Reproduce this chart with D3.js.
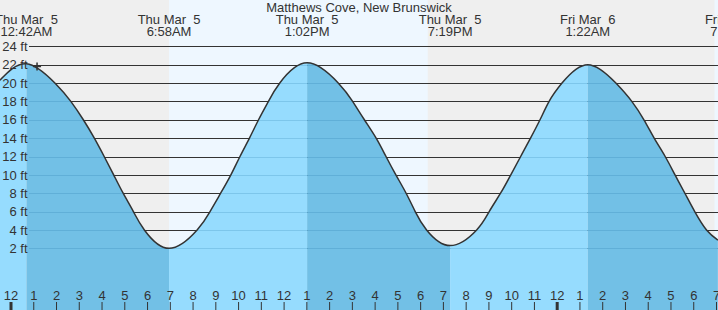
<!DOCTYPE html>
<html>
<head>
<meta charset="utf-8">
<script src="https://cdn.jsdelivr.net/npm/d3@7"></script>
<style>
body { margin:0; padding:0; background:#fff; }
svg { display:block; font-family:"Liberation Sans", Arial, sans-serif; }
text { fill:#333; white-space:pre; }
</style>
</head>
<body>
<svg id="tide"></svg>
<script>
// tide readings picked off the curve (time, feet)
var curveTimes = ["2026-03-04 23:32","2026-03-05 00:42","2026-03-05 01:57","2026-03-05 02:39","2026-03-05 03:12",
    "2026-03-05 03:41","2026-03-05 04:07","2026-03-05 04:32","2026-03-05 04:57","2026-03-05 05:24","2026-03-05 05:53",
    "2026-03-05 06:58","2026-03-05 08:12","2026-03-05 08:46","2026-03-05 09:14","2026-03-05 09:41","2026-03-05 10:05",
    "2026-03-05 10:30","2026-03-05 10:54","2026-03-05 11:20","2026-03-05 11:50","2026-03-05 13:02","2026-03-05 14:24",
    "2026-03-05 15:02","2026-03-05 15:33","2026-03-05 16:04","2026-03-05 16:30","2026-03-05 16:56","2026-03-05 17:23",
    "2026-03-05 17:47","2026-03-05 18:17","2026-03-05 19:19","2026-03-05 20:29","2026-03-05 21:02","2026-03-05 21:32",
    "2026-03-05 21:59","2026-03-05 22:25","2026-03-05 22:51","2026-03-05 23:16","2026-03-05 23:40","2026-03-06 00:14",
    "2026-03-06 01:22","2026-03-06 02:36","2026-03-06 03:18","2026-03-06 03:50","2026-03-06 04:17","2026-03-06 04:46",
    "2026-03-06 05:12","2026-03-06 05:38","2026-03-06 06:04","2026-03-06 06:35","2026-03-06 07:05"];
var curveFeet = [20.3,22.1,20,18,16,14,12,10,8,6,4,
    2.0,4,6,8,10,12,14,16,18,20,22.2,
    20,18,16,14,12,10,8,6,4,2.3,
    4,6,8,10,12,14,16,18,20,22.0,
    20,18,16,14,12,10,8,6,4,2.9];

// high / low tide times shown at the top
var hiLoTimes = ["2026-03-05 00:42","2026-03-05 06:58","2026-03-05 13:02","2026-03-05 19:19","2026-03-06 01:22","2026-03-06 07:44"];
var hiLoTypes = ["H","L","H","L","H","L"];

// sunrise / sunset
var sunTimes = ["2026-03-05 06:58","2026-03-05 18:20","2026-03-06 06:56"];

// now marker
var nowTime = "2026-03-05 01:10";
var nowFeet = 21.8;

var feetTicks = [2,4,6,8,10,12,14,16,18,20,22,24];
var title = "Matthews Cove, New Brunswick";

var parse = d3.timeParse("%Y-%m-%d %H:%M");
var width = 718, height = 310;

var svg = d3.select("#tide").attr("width", width).attr("height", height);

var xScale = d3.scaleTime()
    .domain([parse("2026-03-05 00:00"), parse("2026-03-06 07:00")])
    .range([10.5, 716]);
var yScale = d3.scaleLinear()
    .domain([0, 24])
    .range([266.7, 46.3]);

var start = xScale.invert(0), end = xScale.invert(width);

var points = curveTimes.map(function(t, i) { return {time:parse(t), feet:curveFeet[i]}; });

// night / day background
svg.append("rect").attr("x",0).attr("y",0).attr("width",width).attr("height",height).attr("fill","#efefef");
var sun = sunTimes.map(parse);
var dayBands = [[sun[0], sun[1]], [sun[2], end]];
svg.append("g").selectAll("rect")
    .data(dayBands)
    .enter()
    .append("rect")
    .attr("x", function(d) { return xScale(d[0]); })
    .attr("y", 0)
    .attr("width", function(d) { return xScale(d[1]) - xScale(d[0]); })
    .attr("height", height)
    .attr("fill", "#eef7ff");

// gridlines
svg.append("g").selectAll("line")
    .data(feetTicks)
    .enter()
    .append("line")
    .attr("x1", 29).attr("x2", width)
    .attr("y1", function(d) { return Math.round(yScale(d)) + 0.5; })
    .attr("y2", function(d) { return Math.round(yScale(d)) + 0.5; })
    .attr("stroke", "#333");

// water
var area = d3.area()
    .x(function(d) { return xScale(d.time); })
    .y0(height)
    .y1(function(d) { return yScale(d.feet); })
    .curve(d3.curveNatural);
var line = d3.line()
    .x(function(d) { return xScale(d.time); })
    .y(function(d) { return yScale(d.feet); })
    .curve(d3.curveNatural);

svg.append("clipPath").attr("id", "water")
    .append("path").datum(points).attr("d", area);

var hiLo = hiLoTimes.map(function(t, i) { return {time:parse(t), type:hiLoTypes[i]}; });
var phases = [];
var edges = [start].concat(hiLo.map(function(d) { return d.time; })).concat([end]);
for (var i = 0; i < edges.length - 1; i++) {
    // falling tide (after a high) is darker
    var falling = i > 0 && hiLo[i-1].type == "H";
    phases.push({from:edges[i], to:edges[i+1], falling:falling});
}

var water = svg.append("g").attr("clip-path", "url(#water)");
water.selectAll("rect")
    .data(phases)
    .enter()
    .append("rect")
    .attr("x", function(d) { return xScale(d.from); })
    .attr("y", 0)
    .attr("width", function(d) { return xScale(d.to) - xScale(d.from); })
    .attr("height", height)
    .attr("fill", function(d) { return d.falling ? "#72c0e6" : "#96dcfe"; });
water.selectAll("line")
    .data(feetTicks)
    .enter()
    .append("line")
    .attr("x1", 29).attr("x2", width)
    .attr("y1", function(d) { return Math.round(yScale(d)) + 0.5; })
    .attr("y2", function(d) { return Math.round(yScale(d)) + 0.5; })
    .attr("stroke", "#1a6fa0")
    .attr("stroke-opacity", 0.2);

svg.append("path")
    .datum(points)
    .attr("d", line)
    .attr("fill", "none")
    .attr("stroke", "#333")
    .attr("stroke-width", 1.5);

// now marker
var nx = xScale(parse(nowTime)), ny = yScale(nowFeet);
svg.append("path")
    .attr("d", "M" + (nx-4) + "," + ny + "H" + (nx+4) + "M" + nx + "," + (ny-4) + "V" + (ny+4))
    .attr("stroke", "#333")
    .attr("stroke-width", 1.5);

// feet labels on top
var yAxis = d3.axisLeft(yScale)
    .tickValues(feetTicks)
    .tickSize(0)
    .tickPadding(1.5)
    .tickFormat(function(d) { return d + " ft"; });
var yg = svg.append("g")
    .attr("transform", "translate(29,0)")
    .call(yAxis);
yg.select(".domain").remove();
yg.selectAll("text").attr("font-size", 13).attr("font-family", "Liberation Sans, Arial, sans-serif").attr("fill", "#333");

// hour axis
var hours = d3.timeHour.range(parse("2026-03-05 00:00"), d3.timeHour.offset(parse("2026-03-06 07:00"), 1));
var xAxis = d3.axisTop(xScale)
    .tickValues(hours)
    .tickSize(8)
    .tickPadding(2)
    .tickFormat(d3.timeFormat("%-I"));
var xg = svg.append("g")
    .attr("transform", "translate(0," + height + ")")
    .call(xAxis);
xg.select(".domain").remove();
xg.selectAll("line")
    .attr("stroke", "#333")
    .attr("stroke-width", function(d) { return d.getHours() == 0 ? 3 : 1; });
xg.selectAll("text").attr("font-size", 13).attr("font-family", "Liberation Sans, Arial, sans-serif").attr("fill", "#333");

// labels
svg.append("text")
    .text(title)
    .attr("x", width / 2)
    .attr("y", 12)
    .attr("text-anchor", "middle")
    .attr("font-size", 13);

var dayFmt = d3.timeFormat("%a %b %e"), timeFmt = d3.timeFormat("%-I:%M%p");
var tops = svg.append("g").selectAll("g")
    .data(hiLo)
    .enter()
    .append("g")
    .attr("transform", function(d) { return "translate(" + xScale(d.time) + ",0)"; });
tops.append("text")
    .text(function(d) { return dayFmt(d.time); })
    .attr("y", 24)
    .attr("text-anchor", "middle")
    .attr("font-size", 13);
tops.append("text")
    .text(function(d) { return timeFmt(d.time); })
    .attr("y", 36)
    .attr("text-anchor", "middle")
    .attr("font-size", 13);
</script>
</body>
</html>
